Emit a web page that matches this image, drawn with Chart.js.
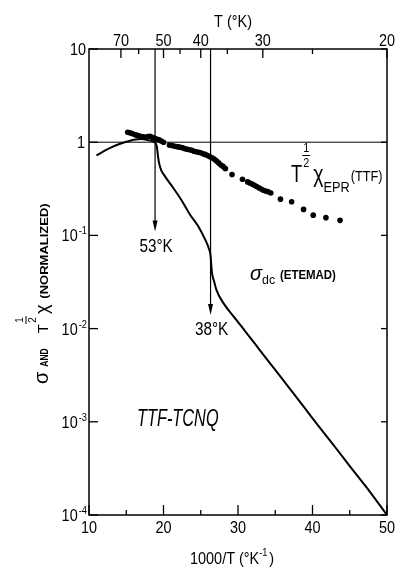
<!DOCTYPE html>
<html>
<head>
<meta charset="utf-8">
<script src="https://cdn.jsdelivr.net/npm/chart.js@4/dist/chart.umd.min.js"></script>
<style>
  html, body { margin: 0; padding: 0; background: #fff; }
  #chart { display: block; }
</style>
</head>
<body>
<canvas id="chart" width="399" height="567"></canvas>
<script>
// sigma_dc (Etemad), normalized, vs 1000/T
const sigmaX = [11.0, 12.0, 13.0, 14.0, 15.0, 16.0, 17.0, 18.0, 18.8, 19.1, 19.25, 19.4, 19.7, 20.2, 21.0,
  22.4, 23.5, 24.7, 25.6, 26.1, 26.3, 26.5, 26.8, 27.1, 28.0, 29.4, 31.0, 33.0, 35.0, 37.0, 39.0, 41.0,
  43.0, 45.0, 47.0, 50.0];
const sigmaY = [0.72, 0.80, 0.88, 0.95, 1.01, 1.06, 1.08, 1.05, 1.00, 0.90, 0.72, 0.60, 0.50, 0.43, 0.35,
  0.24, 0.17, 0.124, 0.09, 0.072, 0.062, 0.040, 0.032, 0.026, 0.019, 0.0135, 0.0093, 0.00578, 0.0036, 0.00224,
  0.00139, 0.00086, 0.00054, 0.000335, 0.00021, 0.0001];

// T^1/2 chi_EPR (TTF), normalized
const eprX = [15.2, 15.5, 15.8, 16.1, 16.4, 16.7, 17.0, 17.3, 17.6, 17.9, 18.2, 18.5, 18.8, 19.1, 19.4, 19.7, 20.0,
  20.8, 21.1, 21.4, 21.7, 22.0, 22.3, 22.6, 22.9, 23.2, 23.5, 23.8, 24.1, 24.4, 24.7, 25.0, 25.3, 25.6, 25.9,
  26.2, 26.5, 26.8, 27.1, 27.4, 27.7, 28.0, 28.3,
  29.2, 30.6,
  31.3, 31.6, 31.9, 32.2, 32.5, 32.8, 33.1, 33.4, 33.7, 34.0, 34.4,
  35.7, 37.2, 38.8, 40.1, 41.8, 43.7];
const eprY = [1.28, 1.26, 1.24, 1.21, 1.19, 1.17, 1.15, 1.14, 1.13, 1.15, 1.16, 1.13, 1.10, 1.08, 1.06, 1.03, 1.00,
  0.93, 0.92, 0.91, 0.90, 0.89, 0.88, 0.87, 0.85, 0.84, 0.83, 0.82, 0.80, 0.79, 0.78, 0.77, 0.75, 0.74, 0.72,
  0.70, 0.68, 0.66, 0.63, 0.60, 0.57, 0.55, 0.52,
  0.45, 0.40,
  0.375, 0.365, 0.355, 0.345, 0.335, 0.325, 0.315, 0.305, 0.30, 0.295, 0.285,
  0.245, 0.23, 0.19, 0.165, 0.155, 0.145];

// axes
const xMajor = [10, 20, 30, 40, 50];
const xMinor = [15, 25, 35, 45];
const tempMajor = [70, 50, 40, 30, 20];
const tempMinor = [60, 45, 35, 25];
const yExponents = [1, 0, -1, -2, -3, -4];

// transition markers
const transTemps = [53, 38];
const transTips = [0.11, 0.014];
const transLabels = ['53°K', '38°K'];

const FONT = '"Liberation Sans", Arial, sans-serif';

function txt(ctx, s, x, y, size, opt = {}) {
  ctx.save();
  ctx.translate(x, y);
  ctx.scale(opt.sx || 0.85, 1);
  ctx.font = (opt.style || '') + ' ' + (opt.bold ? 'bold ' : '') + size + 'px ' + FONT;
  ctx.textAlign = opt.align || 'left';
  ctx.textBaseline = 'alphabetic';
  ctx.fillStyle = '#000';
  ctx.fillText(s, 0, 0);
  const w = ctx.measureText(s).width * (opt.sx || 0.85);
  ctx.restore();
  return w;
}

const decorations = {
  id: 'decorations',
  afterDatasetsDraw(chart) {
    const { ctx, chartArea: a, scales } = chart;
    const xs = scales.x, ys = scales.y;
    ctx.save();
    ctx.strokeStyle = '#000';
    ctx.fillStyle = '#000';

    // frame
    ctx.lineWidth = 1.5;
    ctx.strokeRect(a.left, a.top, a.right - a.left, a.bottom - a.top);

    // reference line at 1
    ctx.lineWidth = 1;
    ctx.beginPath();
    ctx.moveTo(a.left, ys.getPixelForValue(1));
    ctx.lineTo(a.right, ys.getPixelForValue(1));
    ctx.stroke();

    // inward ticks
    ctx.lineWidth = 1.3;
    const vtick = (px, y0, len) => { ctx.beginPath(); ctx.moveTo(px, y0); ctx.lineTo(px, y0 + len); ctx.stroke(); };
    const htick = (py, x0, len) => { ctx.beginPath(); ctx.moveTo(x0, py); ctx.lineTo(x0 + len, py); ctx.stroke(); };
    xMajor.forEach(v => vtick(xs.getPixelForValue(v), a.bottom, -10));
    xMinor.forEach(v => vtick(xs.getPixelForValue(v), a.bottom, -5));
    tempMajor.forEach(t => vtick(xs.getPixelForValue(1000 / t), a.top, 9));
    tempMinor.forEach(t => vtick(xs.getPixelForValue(1000 / t), a.top, 5));
    yExponents.forEach(e => {
      const py = ys.getPixelForValue(Math.pow(10, e));
      htick(py, a.left, 9);
      htick(py, a.right, -6);
    });

    // transition arrows
    ctx.lineWidth = 1.2;
    transTemps.forEach((t, i) => {
      const px = xs.getPixelForValue(1000 / t);
      const tip = ys.getPixelForValue(transTips[i]);
      ctx.beginPath();
      ctx.moveTo(px, a.top);
      ctx.lineTo(px, tip - 6);
      ctx.stroke();
      ctx.beginPath();
      ctx.moveTo(px, tip);
      ctx.lineTo(px - 2.5, tip - 11);
      ctx.lineTo(px + 2.5, tip - 11);
      ctx.closePath();
      ctx.fill();
      txt(ctx, transLabels[i], px + 1, tip + 20, 18, { align: 'center' });
    });

    // bottom tick labels
    xMajor.forEach(v => txt(ctx, String(v), xs.getPixelForValue(v), 533, 17, { align: 'center' }));
    // top tick labels
    tempMajor.forEach(t => txt(ctx, String(t), xs.getPixelForValue(1000 / t), 46, 17, { align: 'center' }));
    // left tick labels
    yExponents.forEach(e => {
      const py = ys.getPixelForValue(Math.pow(10, e));
      if (e === 1) {
        txt(ctx, '10', 86, py + 6, 17, { align: 'right' });
      } else if (e === 0) {
        txt(ctx, '1', 85, py + 6, 17, { align: 'right' });
      } else {
        const sup = '-' + (-e);
        ctx.save();
        ctx.font = '11px ' + FONT;
        const sw = ctx.measureText(sup).width * 0.85;
        ctx.restore();
        txt(ctx, sup, 87 - sw, py - 1, 11);
        txt(ctx, '10', 87 - sw - 1, py + 6, 17, { align: 'right' });
      }
    });

    // axis titles
    txt(ctx, 'T (°K)', 233, 27, 17, { align: 'center' });
    txt(ctx, '1000/T (°K', 190, 564, 17);
    const wx = txt(ctx, '1000/T (°K', 0, -100, 17);
    txt(ctx, '-1', 190 + wx, 556, 11);
    txt(ctx, ')', 190 + wx + 10, 564, 17);

    // rotated y title
    ctx.save();
    ctx.translate(48, 384);
    ctx.rotate(-Math.PI / 2);
    let p = 0;
    p += txt(ctx, 'σ', p, 0, 20, { sx: 1 });
    p += 5;
    p += txt(ctx, 'AND', p, 0, 10, { bold: true, sx: 0.85 });
    p += 15;
    const tw = txt(ctx, 'T', p, 0, 15, { sx: 1 });
    txt(ctx, '1', p + tw + 4, -25, 11, { align: 'center', sx: 0.9 });
    ctx.lineWidth = 1;
    ctx.beginPath(); ctx.moveTo(p + tw, -22); ctx.lineTo(p + tw + 8, -22); ctx.stroke();
    txt(ctx, '2', p + tw + 4, -12, 11, { align: 'center', sx: 0.9 });
    p += tw + 10;
    p += txt(ctx, 'χ', p, 0, 18, { sx: 1 });
    p += 6;
    txt(ctx, '(NORMALIZED)', p, 0, 10, { bold: true, sx: 1.3 });
    ctx.restore();

    // annotations
    txt(ctx, 'TTF-TCNQ', 137, 426, 24, { style: 'italic', sx: 0.68 });

    let q = 250;
    q += txt(ctx, 'σ', q, 280, 21, { style: 'italic', sx: 0.95 });
    txt(ctx, 'dc', q, 284, 13, { sx: 0.95 });
    txt(ctx, '(ETEMAD)', 280, 279, 13, { bold: true, sx: 0.88 });

    let r = 291;
    r += txt(ctx, 'T', r, 182, 23, { sx: 0.8 });
    txt(ctx, '1', r + 4, 152, 12, { align: 'center', sx: 0.9 });
    ctx.lineWidth = 1;
    ctx.beginPath(); ctx.moveTo(r, 155.5); ctx.lineTo(r + 8, 155.5); ctx.stroke();
    txt(ctx, '2', r + 4, 167, 12, { align: 'center', sx: 0.9 });
    r += 11;
    r += txt(ctx, 'χ', r, 182, 23, { sx: 0.85 });
    r += txt(ctx, 'EPR', r, 192, 15, { sx: 0.85 });
    txt(ctx, '(TTF)', r + 1, 181, 15, { sx: 0.85 });

    ctx.restore();
  }
};

const toPoints = (xs, ys) => xs.map((x, i) => ({ x, y: ys[i] }));

new Chart(document.getElementById('chart'), {
  type: 'scatter',
  data: {
    datasets: [
      {
        label: 'sigma_dc',
        data: toPoints(sigmaX, sigmaY),
        showLine: true,
        borderColor: '#000',
        borderWidth: 2,
        pointRadius: 0,
        cubicInterpolationMode: 'monotone',
        fill: false
      },
      {
        label: 'epr',
        data: toPoints(eprX, eprY),
        showLine: false,
        pointRadius: 2.8,
        pointBackgroundColor: '#000',
        pointBorderWidth: 0
      }
    ]
  },
  options: {
    responsive: false,
    animation: false,
    devicePixelRatio: 1,
    layout: { padding: { left: 0, right: 12, top: 0, bottom: 0 } },
    plugins: { legend: { display: false }, tooltip: { enabled: false } },
    scales: {
      x: {
        type: 'linear', min: 10, max: 50, position: 'bottom',
        grid: { display: false }, border: { display: false }, ticks: { display: false },
        afterFit: s => { s.height = 567 - 515; }
      },
      xTop: {
        type: 'linear', min: 10, max: 50, position: 'top',
        grid: { display: false }, border: { display: false }, ticks: { display: false },
        afterFit: s => { s.height = 49; }
      },
      y: {
        type: 'logarithmic', min: 1e-4, max: 10,
        grid: { display: false }, border: { display: false }, ticks: { display: false },
        afterFit: s => { s.width = 89; }
      }
    }
  },
  plugins: [decorations]
});
</script>
</body>
</html>
